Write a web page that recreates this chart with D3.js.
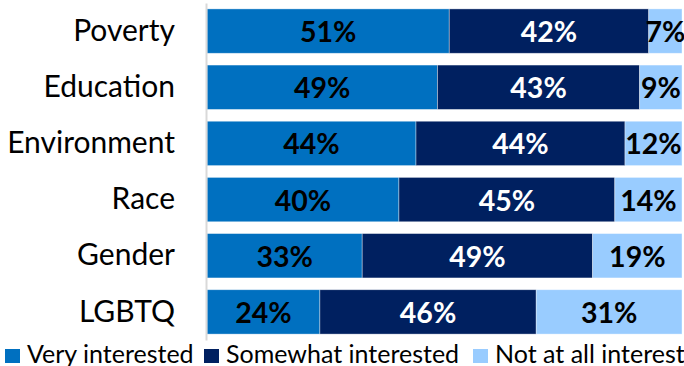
<!DOCTYPE html>
<html lang="en">
<head>
<meta charset="UTF-8">
<title>Interest by topic</title>
<script src="https://d3js.org/d3.v7.min.js"></script>
<style>
    body { margin: 0; background: #ffffff; }
    svg { display: block; font-family: Lato, 'Open Sans', sans-serif; }
</style>
</head>
<body>
<svg width="684" height="366"></svg>
<script>
// data
const topics = ["Poverty", "Education", "Environment", "Race", "Gender", "LGBTQ"];
const veryInterested     = [51, 49, 44, 40, 33, 24];
const somewhatInterested = [42, 43, 44, 45, 49, 46];
const notInterested      = [7, 9, 12, 14, 19, 31];
const seriesNames = ["Very interested", "Somewhat interested", "Not at all interested"];
const seriesColors = ["#0070c0", "#002060", "#99ccff"];
const labelColors = ["#000000", "#ffffff", "#000000"];

const rows = topics.map((t, i) => ({
    topic: t,
    s0: veryInterested[i],
    s1: somewhatInterested[i],
    s2: notInterested[i]
}));
const keys = ["s0", "s1", "s2"];

const svg = d3.select("svg");

// scales
const y = d3.scaleBand()
    .domain(topics)
    .range([3, 340])
    .paddingInner(0.21)
    .paddingOuter(0.105);

const x = d3.scaleLinear()
    .domain([0, 1])
    .range([207, 682]);

// 100% stacked (rows add up to 101 in a few cases)
const stacked = d3.stack()
    .keys(keys)
    .offset(d3.stackOffsetExpand)(rows);

const layers = svg.append("g")
    .selectAll("g")
    .data(stacked)
    .join("g")
    .attr("fill", (d, i) => seriesColors[i]);

layers.selectAll("rect")
    .data(d => d)
    .join("rect")
    .attr("x", d => x(d[0]))
    .attr("y", d => y(d.data.topic))
    .attr("width", d => x(d[1]) - x(d[0]))
    .attr("height", y.bandwidth())
    .attr("stroke", "#ffffff")
    .attr("stroke-opacity", 0.5)
    .attr("stroke-width", 0.75);

// value labels
layers.selectAll("text")
    .data((d, i) => d.map(p => ({ p, key: d.key, idx: i })))
    .join("text")
    .attr("x", d => (x(d.p[0]) + x(d.p[1])) / 2)
    .attr("y", d => y(d.p.data.topic) + y.bandwidth() / 2 + 11)
    .attr("text-anchor", "middle")
    .attr("fill", d => labelColors[d.idx])
    .style("font-size", "28.5px")
    .style("font-weight", "bold")
    .text(d => d.p.data[d.key] + "%");

// vertical axis
const axis = svg.append("g")
    .attr("transform", "translate(206,0)")
    .call(d3.axisLeft(y).tickSize(0).tickPadding(31));
axis.select(".domain")
    .attr("stroke", "#d9d9d9")
    .attr("stroke-width", 2);
axis.selectAll("text")
    .style("font-family", "Lato, 'Open Sans', sans-serif")
    .style("font-size", "30px")
    .attr("fill", "#000000");

// legend
const legendX = [5, 204, 473];
const legend = svg.append("g")
    .selectAll("g")
    .data(seriesNames)
    .join("g")
    .attr("transform", (d, i) => `translate(${legendX[i]},0)`);
legend.append("rect")
    .attr("x", 0)
    .attr("y", 349)
    .attr("width", 15)
    .attr("height", 14)
    .attr("fill", (d, i) => seriesColors[i]);
legend.append("text")
    .attr("x", 22)
    .attr("y", 363)
    .style("font-size", "25px")
    .attr("fill", "#000000")
    .text(d => d);
</script>
</body>
</html>
